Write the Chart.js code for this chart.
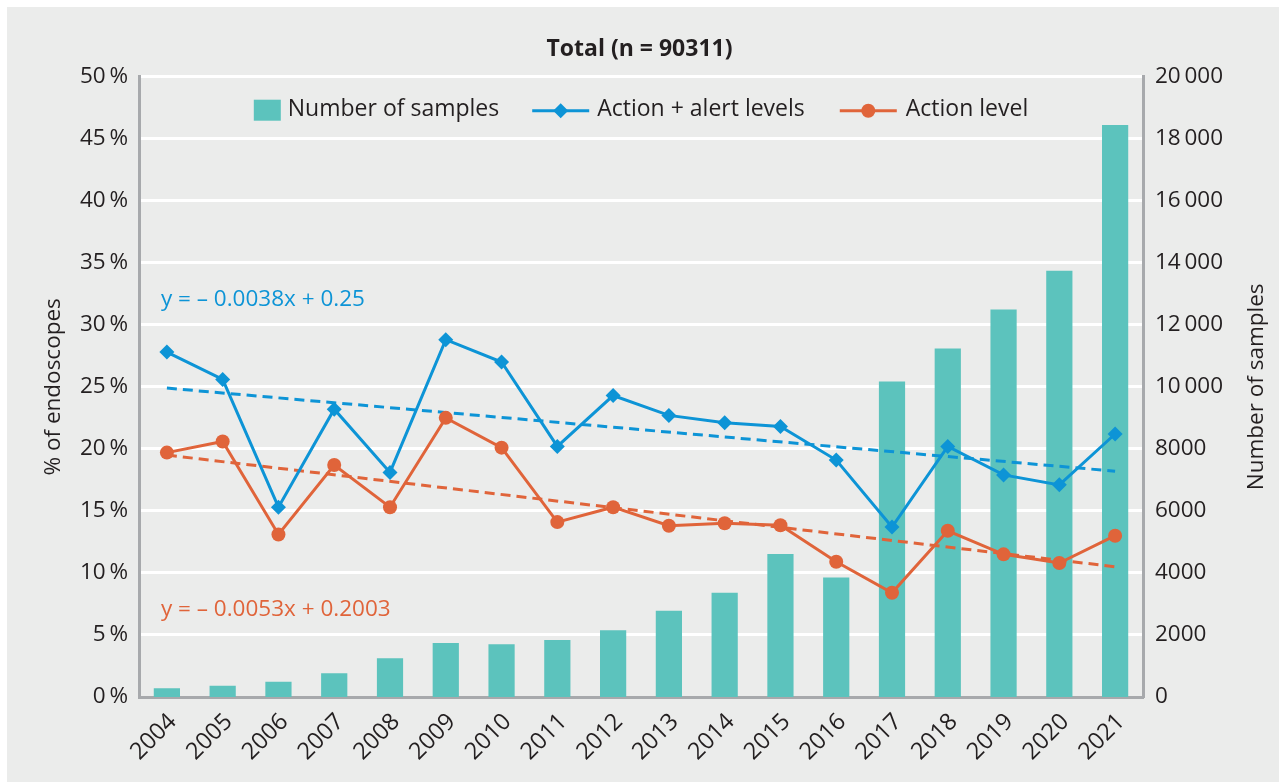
<!DOCTYPE html>
<html><head><meta charset="utf-8">
<script src="https://cdn.jsdelivr.net/npm/chart.js@4"></script>
<style>html,body{margin:0;padding:0;background:#fff;overflow:hidden}canvas{display:block}</style>
</head><body>
<canvas id="c" width="1279" height="782"></canvas>
<script>
const years = ['2004','2005','2006','2007','2008','2009','2010','2011','2012','2013','2014','2015','2016','2017','2018','2019','2020','2021'];
const samples = [280, 365, 495, 765, 1250, 1745, 1700, 1840, 2155, 2780, 3360, 4610, 3855, 10170, 11235, 12495, 13740, 18440];
const actionAlert = [27.8, 25.6, 15.3, 23.2, 18.1, 28.8, 27.0, 20.2, 24.3, 22.7, 22.1, 21.8, 19.1, 13.7, 20.2, 17.9, 17.1, 21.2];
const actionLevel = [19.7, 20.6, 13.1, 18.7, 15.3, 22.5, 20.1, 14.1, 15.3, 13.8, 14.0, 13.85, 10.9, 8.4, 13.4, 11.5, 10.8, 13.0];
const trendYears = ['2004', '2021'];
const trendActionAlert = [24.9, 18.2];
const trendActionLevel = [19.5, 10.5];
const leftTickLabels = ['0\u2009%','5\u2009%','10\u2009%','15\u2009%','20\u2009%','25\u2009%','30\u2009%','35\u2009%','40\u2009%','45\u2009%','50\u2009%'];
const rightTickLabels = ['0','2000','4000','6000','8000','10\u2009000','12\u2009000','14\u2009000','16\u2009000','18\u2009000','20\u2009000'];
const eqActionAlert = 'y = \u2013 0.0038x + 0.25';
const eqActionLevel = 'y = \u2013 0.0053x + 0.2003';
const titleText = 'Total (n = 90311)';
const leftTitle = '% of endoscopes';
const rightTitle = 'Number of samples';
const legendLabels = ['Number of samples', 'Action + alert levels', 'Action level'];

const TEAL = '#5cc3bd', BLUE = '#0d94d6', ORANGE = '#e0643a', TXT = '#231f20', AXIS = '#a7a9ac', BG = '#ebeceb';
const FONT = "'Open Sans', 'Liberation Sans', sans-serif";

const bgPlugin = {
  id: 'bg',
  beforeDraw(chart) {
    const ctx = chart.ctx;
    ctx.save();
    ctx.fillStyle = '#fff';
    ctx.fillRect(0, 0, chart.width, chart.height);
    ctx.fillStyle = BG;
    ctx.fillRect(7, 7, chart.width - 7, chart.height - 7);
    ctx.restore();
  }
};

const decoPlugin = {
  id: 'deco',
  afterDraw(chart) {
    const ctx = chart.ctx, ca = chart.chartArea;
    const x = chart.scales.x, y = chart.scales.y;
    ctx.save();
    ctx.font = '22.5px ' + FONT;
    ctx.textBaseline = 'middle';
    // equations
    ctx.textAlign = 'left';
    ctx.fillStyle = BLUE;
    ctx.fillText(eqActionAlert, x.getPixelForValue(0) - 6, y.getPixelForValue(32.05));
    ctx.fillStyle = ORANGE;
    ctx.fillText(eqActionLevel, x.getPixelForValue(0) - 6, y.getPixelForValue(7.05));
    // right axis title (reads bottom to top)
    ctx.save();
    ctx.translate(chart.width - 22, (ca.top + ca.bottom) / 2);
    ctx.rotate(-Math.PI / 2);
    ctx.textAlign = 'center';
    ctx.fillStyle = TXT;
    ctx.fillText(rightTitle, 0, 0);
    ctx.restore();
    // legend
    ctx.font = '23px ' + FONT;
    const ly = ca.top + 32.5;
    const w0 = ctx.measureText(legendLabels[0]).width;
    const w1 = ctx.measureText(legendLabels[1]).width;
    const w2 = ctx.measureText(legendLabels[2]).width;
    const total = 27 + 7 + w0 + 33 + 57 + 8 + w1 + 35 + 57 + 9 + w2;
    let cx = (ca.left + ca.right) / 2 - total / 2;
    ctx.fillStyle = TEAL;
    ctx.fillRect(cx, ly - 9.5, 27, 21);
    cx += 34;
    ctx.fillStyle = TXT;
    ctx.textAlign = 'left';
    ctx.fillText(legendLabels[0], cx, ly);
    cx += w0 + 33;
    ctx.strokeStyle = BLUE; ctx.lineWidth = 3;
    ctx.beginPath(); ctx.moveTo(cx, ly + 1.5); ctx.lineTo(cx + 57, ly + 1.5); ctx.stroke();
    ctx.fillStyle = BLUE;
    ctx.beginPath(); const dx = cx + 28.5, dy = ly + 1.5;
    ctx.moveTo(dx, dy - 7.5); ctx.lineTo(dx + 7.5, dy); ctx.lineTo(dx, dy + 7.5); ctx.lineTo(dx - 7.5, dy); ctx.closePath(); ctx.fill();
    cx += 57 + 8;
    ctx.fillStyle = TXT;
    ctx.fillText(legendLabels[1], cx, ly);
    cx += w1 + 35;
    ctx.strokeStyle = ORANGE;
    ctx.beginPath(); ctx.moveTo(cx, dy); ctx.lineTo(cx + 57, dy); ctx.stroke();
    ctx.fillStyle = ORANGE;
    ctx.beginPath(); ctx.arc(cx + 28.5, dy, 7, 0, Math.PI * 2); ctx.fill();
    cx += 57 + 9;
    ctx.fillStyle = TXT;
    ctx.fillText(legendLabels[2], cx, ly);
    ctx.restore();
  }
};

new Chart(document.getElementById('c'), {
  type: 'bar',
  data: {
    labels: years,
    datasets: [
      { type: 'line', label: legendLabels[1], data: actionAlert, yAxisID: 'y', borderColor: BLUE, backgroundColor: BLUE,
        borderWidth: 3, pointStyle: 'rectRot', pointRadius: 7.5, pointBackgroundColor: BLUE, pointBorderWidth: 0, tension: 0, order: 1 },
      { type: 'line', label: legendLabels[2], data: actionLevel, yAxisID: 'y', borderColor: ORANGE, backgroundColor: ORANGE,
        borderWidth: 3, pointStyle: 'circle', pointRadius: 7, pointBackgroundColor: ORANGE, pointBorderWidth: 0, tension: 0, order: 1 },
      { type: 'line', label: 'trend1', data: trendYears.map((t, i) => ({ x: t, y: trendActionAlert[i] })), yAxisID: 'y',
        borderColor: BLUE, borderWidth: 3, borderDash: [10, 6], pointRadius: 0, order: 2 },
      { type: 'line', label: 'trend2', data: trendYears.map((t, i) => ({ x: t, y: trendActionLevel[i] })), yAxisID: 'y',
        borderColor: ORANGE, borderWidth: 3, borderDash: [10, 6], pointRadius: 0, order: 2 },
      { type: 'bar', label: legendLabels[0], data: samples, yAxisID: 'y2', backgroundColor: TEAL,
        barPercentage: 0.47, categoryPercentage: 1.0, order: 3 }
    ]
  },
  options: {
    responsive: false,
    animation: false,
    devicePixelRatio: 1,
    layout: { padding: 0 },
    plugins: {
      legend: { display: false },
      tooltip: { enabled: false },
      title: { display: true, text: titleText, color: TXT, font: { family: FONT, size: 23, weight: 'bold' },
        padding: { top: 35.5, bottom: 13.6 } }
    },
    scales: {
      x: {
        offset: true,
        grid: { display: false, drawTicks: false },
        border: { display: true, color: AXIS, width: 3 },
        ticks: { color: TXT, font: { family: FONT, size: 23.5 }, minRotation: 45, maxRotation: 45, autoSkip: false, padding: 11, labelOffset: 6 },
        afterFit(s) { s.height = 85; }
      },
      y: {
        position: 'left', min: 0, max: 50,
        ticks: { stepSize: 5, color: TXT, font: { family: FONT, size: 22.5 }, padding: 11,
          callback: (v, i) => leftTickLabels[i] },
        grid: { color: (c) => c.tick && c.tick.value === 0 ? 'rgba(0,0,0,0)' : '#ffffff', lineWidth: 3, drawTicks: false },
        border: { display: true, color: AXIS, width: 3 },
        title: { display: true, text: leftTitle, color: TXT, font: { family: FONT, size: 22.5 }, padding: { top: 40, bottom: 0 } },
        afterFit(s) { s.width = 139; }
      },
      y2: {
        position: 'right', min: 0, max: 20000,
        ticks: { stepSize: 2000, color: TXT, font: { family: FONT, size: 22.5 }, padding: 12,
          callback: (v, i) => rightTickLabels[i] },
        grid: { display: false, drawTicks: false },
        border: { display: true, color: AXIS, width: 3 },
        afterFit(s) { s.width = 136; }
      }
    }
  },
  plugins: [bgPlugin, decoPlugin]
});
</script>
</body></html>
